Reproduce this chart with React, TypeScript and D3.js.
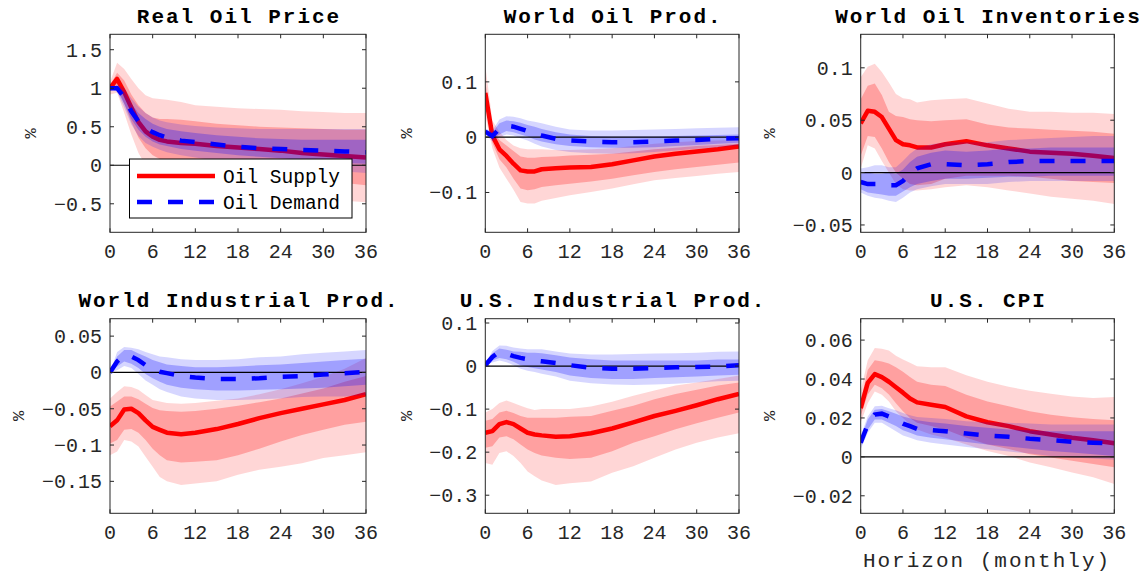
import React from "react";
import * as d3 from "d3";

// Horizons (months) at which values were read
const H = [0, 1, 2, 3, 4, 5, 6, 7, 8, 10, 12, 15, 18, 21, 24, 27, 30, 33, 36];
const xTicks = [0, 6, 12, 18, 24, 30, 36];

const titles = ["Real Oil Price", "World Oil Prod.", "World Oil Inventories", "World Industrial Prod.", "U.S. Industrial Prod.", "U.S. CPI"];
const yDomains = [[-0.87, 1.7], [-0.172, 0.186], [-0.057, 0.132], [-0.194, 0.074], [-0.342, 0.11], [-0.029, 0.071]];
const yTicks = [[-0.5, 0, 0.5, 1, 1.5], [-0.1, 0, 0.1], [-0.05, 0, 0.05, 0.1], [-0.15, -0.1, -0.05, 0, 0.05], [-0.3, -0.2, -0.1, 0, 0.1], [-0.02, 0, 0.02, 0.04, 0.06]];
const legendLabels = ["Oil Supply", "Oil Demand"];

// Panel 1: Real Oil Price
const p1SupMed = [1.0, 1.12, 0.95, 0.75, 0.56, 0.44, 0.37, 0.33, 0.31, 0.29, 0.28, 0.25, 0.23, 0.21, 0.19, 0.16, 0.14, 0.12, 0.1];
const p1SupHi68 = [1.04, 1.2, 1.1, 0.92, 0.78, 0.68, 0.62, 0.6, 0.6, 0.59, 0.57, 0.54, 0.52, 0.5, 0.49, 0.48, 0.47, 0.46, 0.46];
const p1SupLo68 = [0.96, 1.02, 0.8, 0.56, 0.36, 0.22, 0.13, 0.08, 0.05, 0.0, -0.03, -0.06, -0.09, -0.11, -0.14, -0.17, -0.2, -0.23, -0.26];
const p1SupHi90 = [1.08, 1.33, 1.25, 1.12, 1.0, 0.91, 0.87, 0.86, 0.85, 0.82, 0.78, 0.76, 0.74, 0.73, 0.72, 0.7, 0.69, 0.68, 0.68];
const p1SupLo90 = [0.92, 0.94, 0.68, 0.4, 0.16, 0.0, -0.08, -0.13, -0.16, -0.2, -0.23, -0.27, -0.3, -0.33, -0.36, -0.4, -0.43, -0.46, -0.48];
const p1DemMed = [1.0, 1.0, 0.88, 0.7, 0.57, 0.48, 0.43, 0.39, 0.36, 0.32, 0.3, 0.27, 0.24, 0.22, 0.21, 0.2, 0.19, 0.18, 0.17];
const p1DemHi68 = [1.0, 1.03, 0.95, 0.8, 0.68, 0.6, 0.54, 0.5, 0.47, 0.44, 0.42, 0.39, 0.37, 0.35, 0.34, 0.33, 0.33, 0.33, 0.33];
const p1DemLo68 = [1.0, 0.97, 0.8, 0.6, 0.46, 0.37, 0.31, 0.27, 0.25, 0.21, 0.19, 0.16, 0.13, 0.11, 0.09, 0.07, 0.05, 0.03, 0.02];
const p1DemHi90 = [1.0, 1.05, 1.0, 0.87, 0.76, 0.68, 0.62, 0.58, 0.56, 0.53, 0.51, 0.49, 0.48, 0.47, 0.47, 0.47, 0.47, 0.47, 0.47];
const p1DemLo90 = [1.0, 0.95, 0.75, 0.53, 0.38, 0.29, 0.24, 0.2, 0.17, 0.13, 0.1, 0.06, 0.03, 0.0, -0.02, -0.04, -0.06, -0.08, -0.1];

// Panel 2: World Oil Prod.
const p2SupMed = [0.08, 0.003, -0.022, -0.034, -0.048, -0.06, -0.062, -0.062, -0.058, -0.056, -0.055, -0.054, -0.049, -0.042, -0.035, -0.03, -0.026, -0.022, -0.017];
const p2SupHi68 = [0.1, 0.015, -0.005, -0.015, -0.025, -0.035, -0.037, -0.037, -0.036, -0.035, -0.033, -0.032, -0.03, -0.026, -0.022, -0.019, -0.016, -0.014, -0.012];
const p2SupLo68 = [0.06, -0.01, -0.04, -0.055, -0.075, -0.093, -0.096, -0.094, -0.09, -0.087, -0.084, -0.08, -0.075, -0.069, -0.063, -0.058, -0.054, -0.05, -0.046];
const p2SupHi90 = [0.13, 0.03, 0.01, -0.005, -0.015, -0.02, -0.022, -0.022, -0.022, -0.023, -0.023, -0.022, -0.02, -0.016, -0.012, -0.009, -0.007, -0.006, -0.005];
const p2SupLo90 = [0.04, -0.02, -0.055, -0.075, -0.095, -0.117, -0.12, -0.12, -0.115, -0.11, -0.105, -0.099, -0.093, -0.085, -0.078, -0.074, -0.07, -0.066, -0.063];
const p2DemMed = [0.01, 0.002, 0.015, 0.021, 0.019, 0.015, 0.011, 0.007, 0.003, -0.003, -0.006, -0.008, -0.009, -0.009, -0.008, -0.006, -0.005, -0.003, -0.002];
const p2DemHi68 = [0.013, 0.008, 0.025, 0.03, 0.029, 0.026, 0.022, 0.019, 0.015, 0.009, 0.005, 0.002, 0.001, 0.001, 0.001, 0.002, 0.003, 0.004, 0.005];
const p2DemLo68 = [0.007, -0.004, 0.005, 0.011, 0.009, 0.005, 0.001, -0.004, -0.008, -0.013, -0.016, -0.018, -0.019, -0.019, -0.018, -0.016, -0.014, -0.012, -0.01];
const p2DemHi90 = [0.015, 0.012, 0.032, 0.038, 0.037, 0.034, 0.03, 0.028, 0.025, 0.019, 0.014, 0.012, 0.012, 0.013, 0.014, 0.015, 0.016, 0.017, 0.018];
const p2DemLo90 = [0.005, -0.008, 0.0, 0.005, 0.003, -0.002, -0.006, -0.012, -0.017, -0.023, -0.027, -0.029, -0.03, -0.029, -0.027, -0.024, -0.021, -0.018, -0.015];

// Panel 3: World Oil Inventories
const p3SupMed = [0.047, 0.059, 0.058, 0.053, 0.042, 0.031, 0.027, 0.026, 0.024, 0.024, 0.027, 0.03, 0.026, 0.023, 0.02, 0.019, 0.018, 0.016, 0.014];
const p3SupHi68 = [0.07, 0.083, 0.085, 0.074, 0.058, 0.054, 0.053, 0.051, 0.05, 0.049, 0.05, 0.051, 0.046, 0.043, 0.042, 0.041, 0.04, 0.039, 0.037];
const p3SupLo68 = [0.016, 0.035, 0.034, 0.023, 0.01, 0.0, -0.006, -0.011, -0.012, -0.011, -0.006, -0.003, -0.003, -0.003, -0.004, -0.006, -0.008, -0.009, -0.01];
const p3SupHi90 = [0.091, 0.101, 0.104, 0.096, 0.086, 0.075, 0.071, 0.07, 0.067, 0.069, 0.07, 0.071, 0.066, 0.061, 0.058, 0.058, 0.057, 0.057, 0.056];
const p3SupLo90 = [0.004, 0.026, 0.023, 0.011, 0.0, -0.011, -0.016, -0.017, -0.017, -0.016, -0.014, -0.012, -0.014, -0.017, -0.02, -0.023, -0.025, -0.027, -0.03];
const p3DemMed = [-0.009, -0.011, -0.011, -0.011, -0.012, -0.012, -0.008, -0.001, 0.004, 0.008, 0.008, 0.007, 0.008, 0.01, 0.011, 0.011, 0.011, 0.011, 0.011];
const p3DemHi68 = [-0.001, 0.0, -0.001, -0.001, 0.0, -0.001, 0.003, 0.01, 0.015, 0.019, 0.021, 0.02, 0.021, 0.023, 0.023, 0.024, 0.024, 0.024, 0.024];
const p3DemLo68 = [-0.016, -0.019, -0.02, -0.021, -0.022, -0.022, -0.018, -0.014, -0.011, -0.008, -0.006, -0.006, -0.005, -0.004, -0.004, -0.003, -0.003, -0.003, -0.003];
const p3DemHi90 = [0.004, 0.005, 0.007, 0.007, 0.005, 0.005, 0.011, 0.018, 0.023, 0.027, 0.029, 0.029, 0.029, 0.031, 0.032, 0.033, 0.034, 0.035, 0.035];
const p3DemLo90 = [-0.019, -0.022, -0.024, -0.025, -0.027, -0.028, -0.024, -0.019, -0.016, -0.013, -0.011, -0.011, -0.011, -0.009, -0.008, -0.008, -0.008, -0.008, -0.008];

// Panel 4: World Industrial Prod.
const p4SupMed = [-0.074, -0.066, -0.051, -0.05, -0.056, -0.066, -0.075, -0.079, -0.083, -0.085, -0.083, -0.078, -0.071, -0.063, -0.056, -0.05, -0.044, -0.038, -0.03];
const p4SupHi68 = [-0.047, -0.04, -0.033, -0.033, -0.037, -0.043, -0.049, -0.052, -0.053, -0.054, -0.053, -0.05, -0.046, -0.041, -0.036, -0.029, -0.022, -0.013, -0.005];
const p4SupLo68 = [-0.098, -0.093, -0.079, -0.078, -0.083, -0.093, -0.105, -0.114, -0.121, -0.124, -0.123, -0.121, -0.114, -0.105, -0.095, -0.086, -0.079, -0.072, -0.068];
const p4SupHi90 = [-0.036, -0.027, -0.019, -0.02, -0.024, -0.031, -0.038, -0.04, -0.042, -0.043, -0.042, -0.039, -0.036, -0.03, -0.023, -0.015, -0.006, 0.005, 0.02];
const p4SupLo90 = [-0.114, -0.109, -0.093, -0.095, -0.102, -0.116, -0.13, -0.144, -0.15, -0.155, -0.153, -0.15, -0.141, -0.134, -0.13, -0.125, -0.118, -0.114, -0.11];
const p4DemMed = [0.0, 0.015, 0.024, 0.022, 0.017, 0.01, 0.004, 0.001, -0.001, -0.005, -0.007, -0.009, -0.009, -0.008, -0.006, -0.005, -0.003, -0.001, 0.001];
const p4DemHi68 = [0.0, 0.022, 0.031, 0.031, 0.026, 0.022, 0.017, 0.014, 0.011, 0.009, 0.007, 0.007, 0.008, 0.01, 0.011, 0.013, 0.015, 0.017, 0.019];
const p4DemLo68 = [0.0, 0.008, 0.015, 0.012, 0.006, -0.002, -0.008, -0.013, -0.017, -0.021, -0.023, -0.025, -0.025, -0.024, -0.023, -0.022, -0.021, -0.019, -0.017];
const p4DemHi90 = [0.0, 0.028, 0.035, 0.034, 0.032, 0.028, 0.025, 0.022, 0.021, 0.018, 0.017, 0.017, 0.018, 0.021, 0.022, 0.025, 0.027, 0.029, 0.031];
const p4DemLo90 = [0.0, 0.003, 0.009, 0.006, -0.002, -0.011, -0.017, -0.023, -0.027, -0.033, -0.036, -0.038, -0.038, -0.037, -0.036, -0.034, -0.033, -0.033, -0.031];

// Panel 5: U.S. Industrial Prod.
const p5SupMed = [-0.155, -0.151, -0.135, -0.13, -0.135, -0.145, -0.155, -0.159, -0.161, -0.164, -0.163, -0.156, -0.145, -0.131, -0.116, -0.104, -0.091, -0.077, -0.065];
const p5SupHi68 = [-0.127, -0.123, -0.108, -0.104, -0.109, -0.116, -0.12, -0.12, -0.12, -0.12, -0.118, -0.116, -0.104, -0.092, -0.077, -0.065, -0.055, -0.045, -0.038];
const p5SupLo68 = [-0.19, -0.186, -0.166, -0.163, -0.17, -0.182, -0.194, -0.202, -0.208, -0.213, -0.216, -0.213, -0.198, -0.178, -0.163, -0.147, -0.133, -0.12, -0.108];
const p5SupHi90 = [-0.108, -0.1, -0.086, -0.08, -0.086, -0.092, -0.098, -0.102, -0.1, -0.1, -0.1, -0.094, -0.083, -0.069, -0.057, -0.045, -0.038, -0.03, -0.022];
const p5SupLo90 = [-0.225, -0.229, -0.202, -0.198, -0.209, -0.225, -0.245, -0.256, -0.266, -0.276, -0.272, -0.268, -0.248, -0.233, -0.213, -0.194, -0.178, -0.166, -0.156];
const p5DemMed = [0.002, 0.021, 0.033, 0.029, 0.023, 0.019, 0.016, 0.013, 0.011, 0.007, 0.002, -0.004, -0.006, -0.006, -0.005, -0.003, -0.002, -0.001, 0.002];
const p5DemHi68 = [0.003, 0.03, 0.041, 0.038, 0.034, 0.033, 0.031, 0.031, 0.03, 0.025, 0.02, 0.016, 0.013, 0.013, 0.013, 0.013, 0.013, 0.015, 0.015];
const p5DemLo68 = [0.0, 0.013, 0.019, 0.016, 0.01, 0.002, -0.002, -0.005, -0.008, -0.014, -0.022, -0.028, -0.03, -0.03, -0.028, -0.026, -0.024, -0.022, -0.02];
const p5DemHi90 = [0.004, 0.035, 0.048, 0.047, 0.043, 0.041, 0.039, 0.039, 0.039, 0.034, 0.029, 0.027, 0.027, 0.028, 0.029, 0.03, 0.031, 0.033, 0.034];
const p5DemLo90 = [0.0, 0.008, 0.013, 0.009, 0.002, -0.006, -0.011, -0.014, -0.018, -0.024, -0.034, -0.04, -0.043, -0.044, -0.043, -0.041, -0.038, -0.035, -0.034];

// Panel 6: U.S. CPI
const p6SupMed = [0.025, 0.038, 0.0425, 0.041, 0.0386, 0.0358, 0.033, 0.03, 0.028, 0.0268, 0.0256, 0.0208, 0.0178, 0.0158, 0.0132, 0.0115, 0.0098, 0.0085, 0.007];
const p6SupHi68 = [0.029, 0.0446, 0.0497, 0.049, 0.048, 0.046, 0.0437, 0.041, 0.0386, 0.037, 0.0364, 0.0319, 0.0285, 0.026, 0.0234, 0.0217, 0.0203, 0.0195, 0.0188];
const p6SupLo68 = [0.021, 0.032, 0.037, 0.0353, 0.032, 0.0276, 0.0234, 0.02, 0.0175, 0.0158, 0.014, 0.0098, 0.0064, 0.004, 0.0014, -0.0003, -0.002, -0.0037, -0.0054];
const p6SupHi90 = [0.034, 0.0497, 0.056, 0.0556, 0.0547, 0.052, 0.05, 0.0483, 0.0466, 0.046, 0.046, 0.042, 0.0386, 0.036, 0.034, 0.0324, 0.031, 0.0302, 0.0307];
const p6SupLo90 = [0.0175, 0.0276, 0.0336, 0.0319, 0.0285, 0.0234, 0.02, 0.0166, 0.014, 0.0115, 0.0098, 0.0064, 0.003, 0.0005, -0.0029, -0.0054, -0.008, -0.0105, -0.0139];
const p6DemMed = [0.0073, 0.0166, 0.0217, 0.0222, 0.0208, 0.0192, 0.0171, 0.0158, 0.0144, 0.0137, 0.0132, 0.012, 0.011, 0.0103, 0.0093, 0.0086, 0.0078, 0.0073, 0.0068];
const p6DemHi68 = [0.009, 0.0192, 0.0242, 0.0246, 0.0234, 0.0222, 0.0208, 0.0198, 0.0188, 0.0178, 0.0171, 0.0158, 0.0149, 0.0141, 0.0136, 0.0132, 0.0132, 0.0132, 0.0132];
const p6DemLo68 = [0.0056, 0.014, 0.0192, 0.0192, 0.0175, 0.0158, 0.0137, 0.0124, 0.011, 0.0098, 0.009, 0.0076, 0.0064, 0.0053, 0.0042, 0.003, 0.0022, 0.0014, 0.0005];
const p6DemHi90 = [0.0107, 0.0208, 0.026, 0.0263, 0.025, 0.0239, 0.0225, 0.0214, 0.0205, 0.02, 0.0195, 0.0183, 0.0178, 0.0175, 0.0171, 0.0166, 0.0166, 0.0166, 0.0166];
const p6DemLo90 = [0.0039, 0.0124, 0.0175, 0.0175, 0.0154, 0.0132, 0.011, 0.0098, 0.0086, 0.0073, 0.0064, 0.0051, 0.0039, 0.0027, 0.0017, 0.0005, -0.0003, -0.0008, -0.0015];

const supply = [
  [p1SupMed, p1SupHi68, p1SupLo68, p1SupHi90, p1SupLo90],
  [p2SupMed, p2SupHi68, p2SupLo68, p2SupHi90, p2SupLo90],
  [p3SupMed, p3SupHi68, p3SupLo68, p3SupHi90, p3SupLo90],
  [p4SupMed, p4SupHi68, p4SupLo68, p4SupHi90, p4SupLo90],
  [p5SupMed, p5SupHi68, p5SupLo68, p5SupHi90, p5SupLo90],
  [p6SupMed, p6SupHi68, p6SupLo68, p6SupHi90, p6SupLo90],
];
const demand = [
  [p1DemMed, p1DemHi68, p1DemLo68, p1DemHi90, p1DemLo90],
  [p2DemMed, p2DemHi68, p2DemLo68, p2DemHi90, p2DemLo90],
  [p3DemMed, p3DemHi68, p3DemLo68, p3DemHi90, p3DemLo90],
  [p4DemMed, p4DemHi68, p4DemLo68, p4DemHi90, p4DemLo90],
  [p5DemMed, p5DemHi68, p5DemLo68, p5DemHi90, p5DemLo90],
  [p6DemMed, p6DemHi68, p6DemLo68, p6DemHi90, p6DemLo90],
];

// Layout
const colX = [110, 485.3, 860.7];
const colW = [256, 253.7, 253.6];
const rowY = [34.3, 318.7];
const rowH = [198, 194.6];
const yLabelOffset = [80, 79, 92, 92.5, 79, 92];
const titleBase = [23, 306.5];

const MONO = '"Liberation Mono", "DejaVu Sans Mono", "Courier New", monospace';
const AX = "#262626";

const fmt = (v: number) => (v === 0 ? "0" : String(+v.toFixed(3)).replace("-", "\u2212"));

function Panel({ i }: { i: number }) {
  const col = i % 3;
  const row = Math.floor(i / 3);
  const x0 = colX[col], w = colW[col], y0 = rowY[row], h = rowH[row];
  const xs = d3.scaleLinear().domain([0, 36]).range([x0, x0 + w]);
  const ys = d3.scaleLinear().domain(yDomains[i]).range([y0 + h, y0]);
  const band = (hi: number[], lo: number[]) =>
    d3.area<number>().x((_, k) => xs(H[k])).y0((_, k) => ys(lo[k])).y1((_, k) => ys(hi[k]))(H) || "";
  const line = (m: number[]) => d3.line<number>().x((_, k) => xs(H[k])).y((_, k) => ys(m[k]))(H) || "";
  const [sMed, sHi68, sLo68, sHi90, sLo90] = supply[i];
  const [dMed, dHi68, dLo68, dHi90, dLo90] = demand[i];
  const clipId = `clip${i}`;
  const tl = 4;
  return (
    <g>
      <defs>
        <clipPath id={clipId}>
          <rect x={x0} y={y0} width={w} height={h} />
        </clipPath>
      </defs>
      <g clipPath={`url(#${clipId})`}>
        <path d={band(sHi90, sLo90)} fill="#ff0000" fillOpacity={0.16} />
        <path d={band(sHi68, sLo68)} fill="#ff0000" fillOpacity={0.25} />
        <path d={line(sMed)} fill="none" stroke="#ff0000" strokeWidth={4.5} strokeLinejoin="round" />
        <path d={band(dHi90, dLo90)} fill="#0000ff" fillOpacity={0.16} />
        <path d={band(dHi68, dLo68)} fill="#0000ff" fillOpacity={0.25} />
        <line x1={xs(0)} x2={xs(36)} y1={ys(0)} y2={ys(0)} stroke="#000" strokeWidth={1.2} />
        <path d={line(dMed)} fill="none" stroke="#0000ff" strokeWidth={4.5} strokeDasharray="15 16" />
      </g>
      {/* axes box */}
      <rect x={x0} y={y0} width={w} height={h} fill="none" stroke={AX} strokeWidth={1} />
      {xTicks.map((t) => (
        <g key={"x" + t}>
          <line x1={xs(t)} x2={xs(t)} y1={y0 + h} y2={y0 + h - tl} stroke={AX} />
          <line x1={xs(t)} x2={xs(t)} y1={y0} y2={y0 + tl} stroke={AX} />
          <text x={xs(t)} y={y0 + h + 26} textAnchor="middle" fontFamily={MONO} fontSize={20} fill={AX}>
            {t}
          </text>
        </g>
      ))}
      {yTicks[i].map((t) => (
        <g key={"y" + t}>
          <line x1={x0} x2={x0 + tl} y1={ys(t)} y2={ys(t)} stroke={AX} />
          <line x1={x0 + w} x2={x0 + w - tl} y1={ys(t)} y2={ys(t)} stroke={AX} />
          <text x={x0 - 8} y={ys(t)} dy="0.35em" textAnchor="end" fontFamily={MONO} fontSize={20} fill={AX}>
            {fmt(t)}
          </text>
        </g>
      ))}
      <text
        transform={`translate(${x0 - yLabelOffset[i] + 6},${y0 + h / 2}) rotate(-90)`}
        textAnchor="middle"
        fontFamily={MONO}
        fontSize={17}
        fill={AX}
      >
        %
      </text>
      <text
        x={x0 + w / 2 + 1}
        y={titleBase[row]}
        textAnchor="middle"
        fontFamily={MONO}
        fontWeight="bold"
        fontSize={21}
        letterSpacing={2}
        fill="#000"
      >
        {titles[i]}
      </text>
    </g>
  );
}

function Legend() {
  const lx = 129.5, ly = 159, lw = 222.5, lh = 59;
  return (
    <g>
      <rect x={lx} y={ly} width={lw} height={lh} fill="#fff" stroke="#000" strokeWidth={1} />
      <line x1={137} x2={215} y1={176} y2={176} stroke="#ff0000" strokeWidth={4.5} />
      <line x1={137} x2={215} y1={202} y2={202} stroke="#0000ff" strokeWidth={4.5} strokeDasharray="15 16" />
      <text x={223} y={176} dy="0.35em" fontFamily={MONO} fontSize={19.5} fill="#000">
        {legendLabels[0]}
      </text>
      <text x={223} y={202} dy="0.35em" fontFamily={MONO} fontSize={19.5} fill="#000">
        {legendLabels[1]}
      </text>
    </g>
  );
}

export default function App() {
  return (
    <div style={{ position: "fixed", left: 0, top: 0 }}>
      <svg width={1147} height={576} style={{ display: "block", background: "#fff" }}>
        {[0, 1, 2, 3, 4, 5].map((i) => (
          <Panel key={i} i={i} />
        ))}
        <Legend />
        <text x={987} y={567} textAnchor="middle" fontFamily={MONO} fontSize={21} letterSpacing={2} fill={AX}>
          Horizon (monthly)
        </text>
      </svg>
    </div>
  );
}
